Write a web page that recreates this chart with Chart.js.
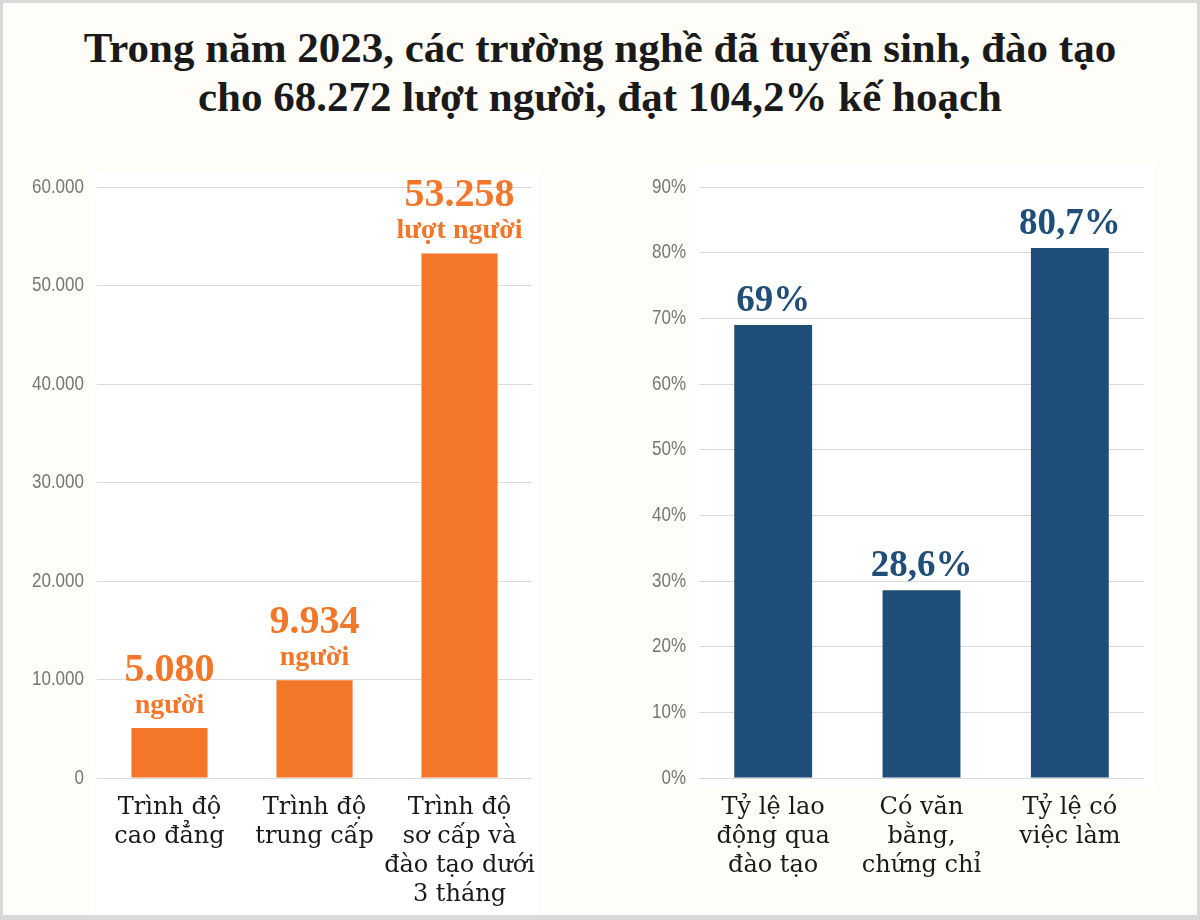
<!DOCTYPE html>
<html lang="vi">
<head>
<meta charset="utf-8">
<title>Tuyển sinh, đào tạo nghề 2023</title>
<script src="https://cdn.jsdelivr.net/npm/chart.js@4.4.1/dist/chart.umd.min.js"></script>
<style>
  html, body { margin: 0; padding: 0; }
  body {
    width: 1200px; height: 920px; overflow: hidden;
    background: #d9d9d9; position: relative;
  }
  #sheet {
    position: absolute; left: 3px; top: 3px; right: 3px; bottom: 5px;
    background: #fefdf7;
  }
  #title {
    position: absolute; left: 0; top: 23px; width: 1200px;
    text-align: center; color: #1a1a1a;
    font: bold 43px/49px 'Liberation Serif', 'DejaVu Serif', serif;
  }
  canvas { position: absolute; top: 150px; }
  #leftChart { left: 0; }
  #rightChart { left: 600px; }
</style>
</head>
<body>
<div id="sheet"></div>
<div id="title">Trong năm 2023, các trường nghề đã tuyển sinh, đào tạo<br>cho 68.272 lượt người, đạt 104,2% kế hoạch</div>
<canvas id="leftChart" width="560" height="765"></canvas>
<canvas id="rightChart" width="600" height="765"></canvas>

<script>
/* ── data: left chart (người) ── */
const levelLabels = [
  ['Trình độ', 'cao đẳng'],
  ['Trình độ', 'trung cấp'],
  ['Trình độ', 'sơ cấp và', 'đào tạo dưới', '3 tháng']
];
const levelValues = [5080, 9934, 53258];
const levelValueText = ['5.080', '9.934', '53.258'];
const levelUnitText = ['người', 'người', 'lượt người'];
const levelTicks = ['0', '10.000', '20.000', '30.000', '40.000', '50.000', '60.000'];

/* ── data: right chart (tỷ lệ %) ── */
const rateLabels = [
  ['Tỷ lệ lao', 'động qua', 'đào tạo'],
  ['Có văn', 'bằng,', 'chứng chỉ'],
  ['Tỷ lệ có', 'việc làm']
];
const rateValues = [69, 28.6, 80.7];
const rateValueText = ['69%', '28,6%', '80,7%'];
const rateTicks = ['0%', '10%', '20%', '30%', '40%', '50%', '60%', '70%', '80%', '90%'];

const ORANGE = '#f47629';
const NAVY = '#1f4e79';
const SERIF = "'Liberation Serif', 'DejaVu Serif', serif";
const LABEL_SERIF = "'DejaVu Serif', 'Liberation Serif', serif";
const SANS = "'Liberation Sans', Arial, sans-serif";

/* white panel behind each plot, given as offsets around the chart area */
const whitePanel = {
  id: 'whitePanel',
  beforeDraw(chart, args, opts) {
    const { ctx, chartArea: a } = chart;
    const bottom = opts.toCanvasBottom ? chart.height : a.bottom + opts.bottom;
    ctx.save();
    ctx.fillStyle = '#ffffff';
    ctx.fillRect(a.left - opts.left, a.top - opts.top,
      (a.right + opts.right) - (a.left - opts.left),
      bottom - (a.top - opts.top));
    ctx.restore();
  }
};

/*
  Narrow y tick labels: no condensed sans is installed, so the
  library's own tick labels are kept transparent (for layout) and
  redrawn here squeezed horizontally at the same tick positions.
*/
const narrowTicks = {
  id: 'narrowTicks',
  afterDraw(chart, args, opts) {
    const { ctx, chartArea: a } = chart;
    const y = chart.scales.y;
    ctx.save();
    ctx.fillStyle = '#767676';
    ctx.font = `21px ${SANS}`;
    ctx.textAlign = 'right';
    ctx.textBaseline = 'middle';
    y.ticks.forEach((t, i) => {
      ctx.save();
      ctx.translate(a.left - 13, y.getPixelForTick(i));
      ctx.scale(0.81, 1);
      ctx.fillText(opts.labels[i], 0, 0);
      ctx.restore();
    });
    ctx.restore();
  }
};

/* value labels above each bar, positioned from the bar elements */
const barLabels = {
  id: 'barLabels',
  afterDatasetsDraw(chart, args, opts) {
    const { ctx } = chart;
    const bars = chart.getDatasetMeta(0).data;
    ctx.save();
    ctx.textAlign = 'center';
    ctx.textBaseline = 'alphabetic';
    ctx.fillStyle = opts.color;
    bars.forEach((bar, i) => {
      ctx.font = `bold ${opts.valueSize}px ${SERIF}`;
      ctx.fillText(opts.values[i], bar.x, bar.y - opts.valueGap);
      if (opts.units) {
        ctx.font = `bold ${opts.unitSize}px ${SERIF}`;
        ctx.fillText(opts.units[i], bar.x, bar.y - opts.unitGap);
      }
    });
    ctx.restore();
  }
};

function makeChart(id, cfg) {
  return new Chart(document.getElementById(id), {
    type: 'bar',
    data: {
      labels: cfg.labels,
      datasets: [{
        data: cfg.values,
        backgroundColor: cfg.color,
        barPercentage: 1,
        categoryPercentage: 0.525
      }]
    },
    options: {
      responsive: false,
      animation: false,
      devicePixelRatio: 1,
      layout: { padding: { top: 37, right: cfg.padRight, bottom: 7, left: 0 } },
      plugins: {
        legend: { display: false },
        tooltip: { enabled: false },
        whitePanel: cfg.panel,
        narrowTicks: { labels: cfg.ticks },
        barLabels: cfg.barLabels
      },
      scales: {
        x: {
          grid: { display: false },
          border: { display: false },
          afterFit: (axis) => { axis.height = 130; },
          ticks: {
            color: '#1a1a1a',
            padding: 7,
            maxRotation: 0,
            autoSkip: false,
            font: { family: LABEL_SERIF, size: 24, lineHeight: 1.21 }
          }
        },
        y: {
          min: 0,
          max: cfg.max,
          afterFit: (axis) => { axis.width = cfg.axisWidth; },
          border: { display: false },
          grid: { color: '#d9d9d9', lineWidth: 1, drawTicks: false },
          ticks: {
            stepSize: cfg.step,
            padding: 13,
            color: 'rgba(0,0,0,0)',
            font: { family: SANS, size: 21 },
            callback: (v, i) => cfg.ticks[i]
          }
        }
      }
    },
    plugins: [whitePanel, narrowTicks, barLabels]
  });
}

makeChart('leftChart', {
  labels: levelLabels,
  values: levelValues,
  color: ORANGE,
  max: 60000,
  step: 10000,
  ticks: levelTicks,
  axisWidth: 97,
  padRight: 28,
  panel: { left: 8, top: 15, right: 6, toCanvasBottom: true },
  barLabels: {
    values: levelValueText, units: levelUnitText, color: ORANGE,
    valueSize: 40, unitSize: 28, valueGap: 47, unitGap: 15
  }
});

makeChart('rightChart', {
  labels: rateLabels,
  values: rateValues,
  color: NAVY,
  max: 90,
  step: 10,
  ticks: rateTicks,
  axisWidth: 99,
  padRight: 56,
  panel: { left: 6, top: 23, right: 10, bottom: 10 },
  barLabels: {
    values: rateValueText, color: NAVY,
    valueSize: 37, valueGap: 14
  }
});
</script>
</body>
</html>
